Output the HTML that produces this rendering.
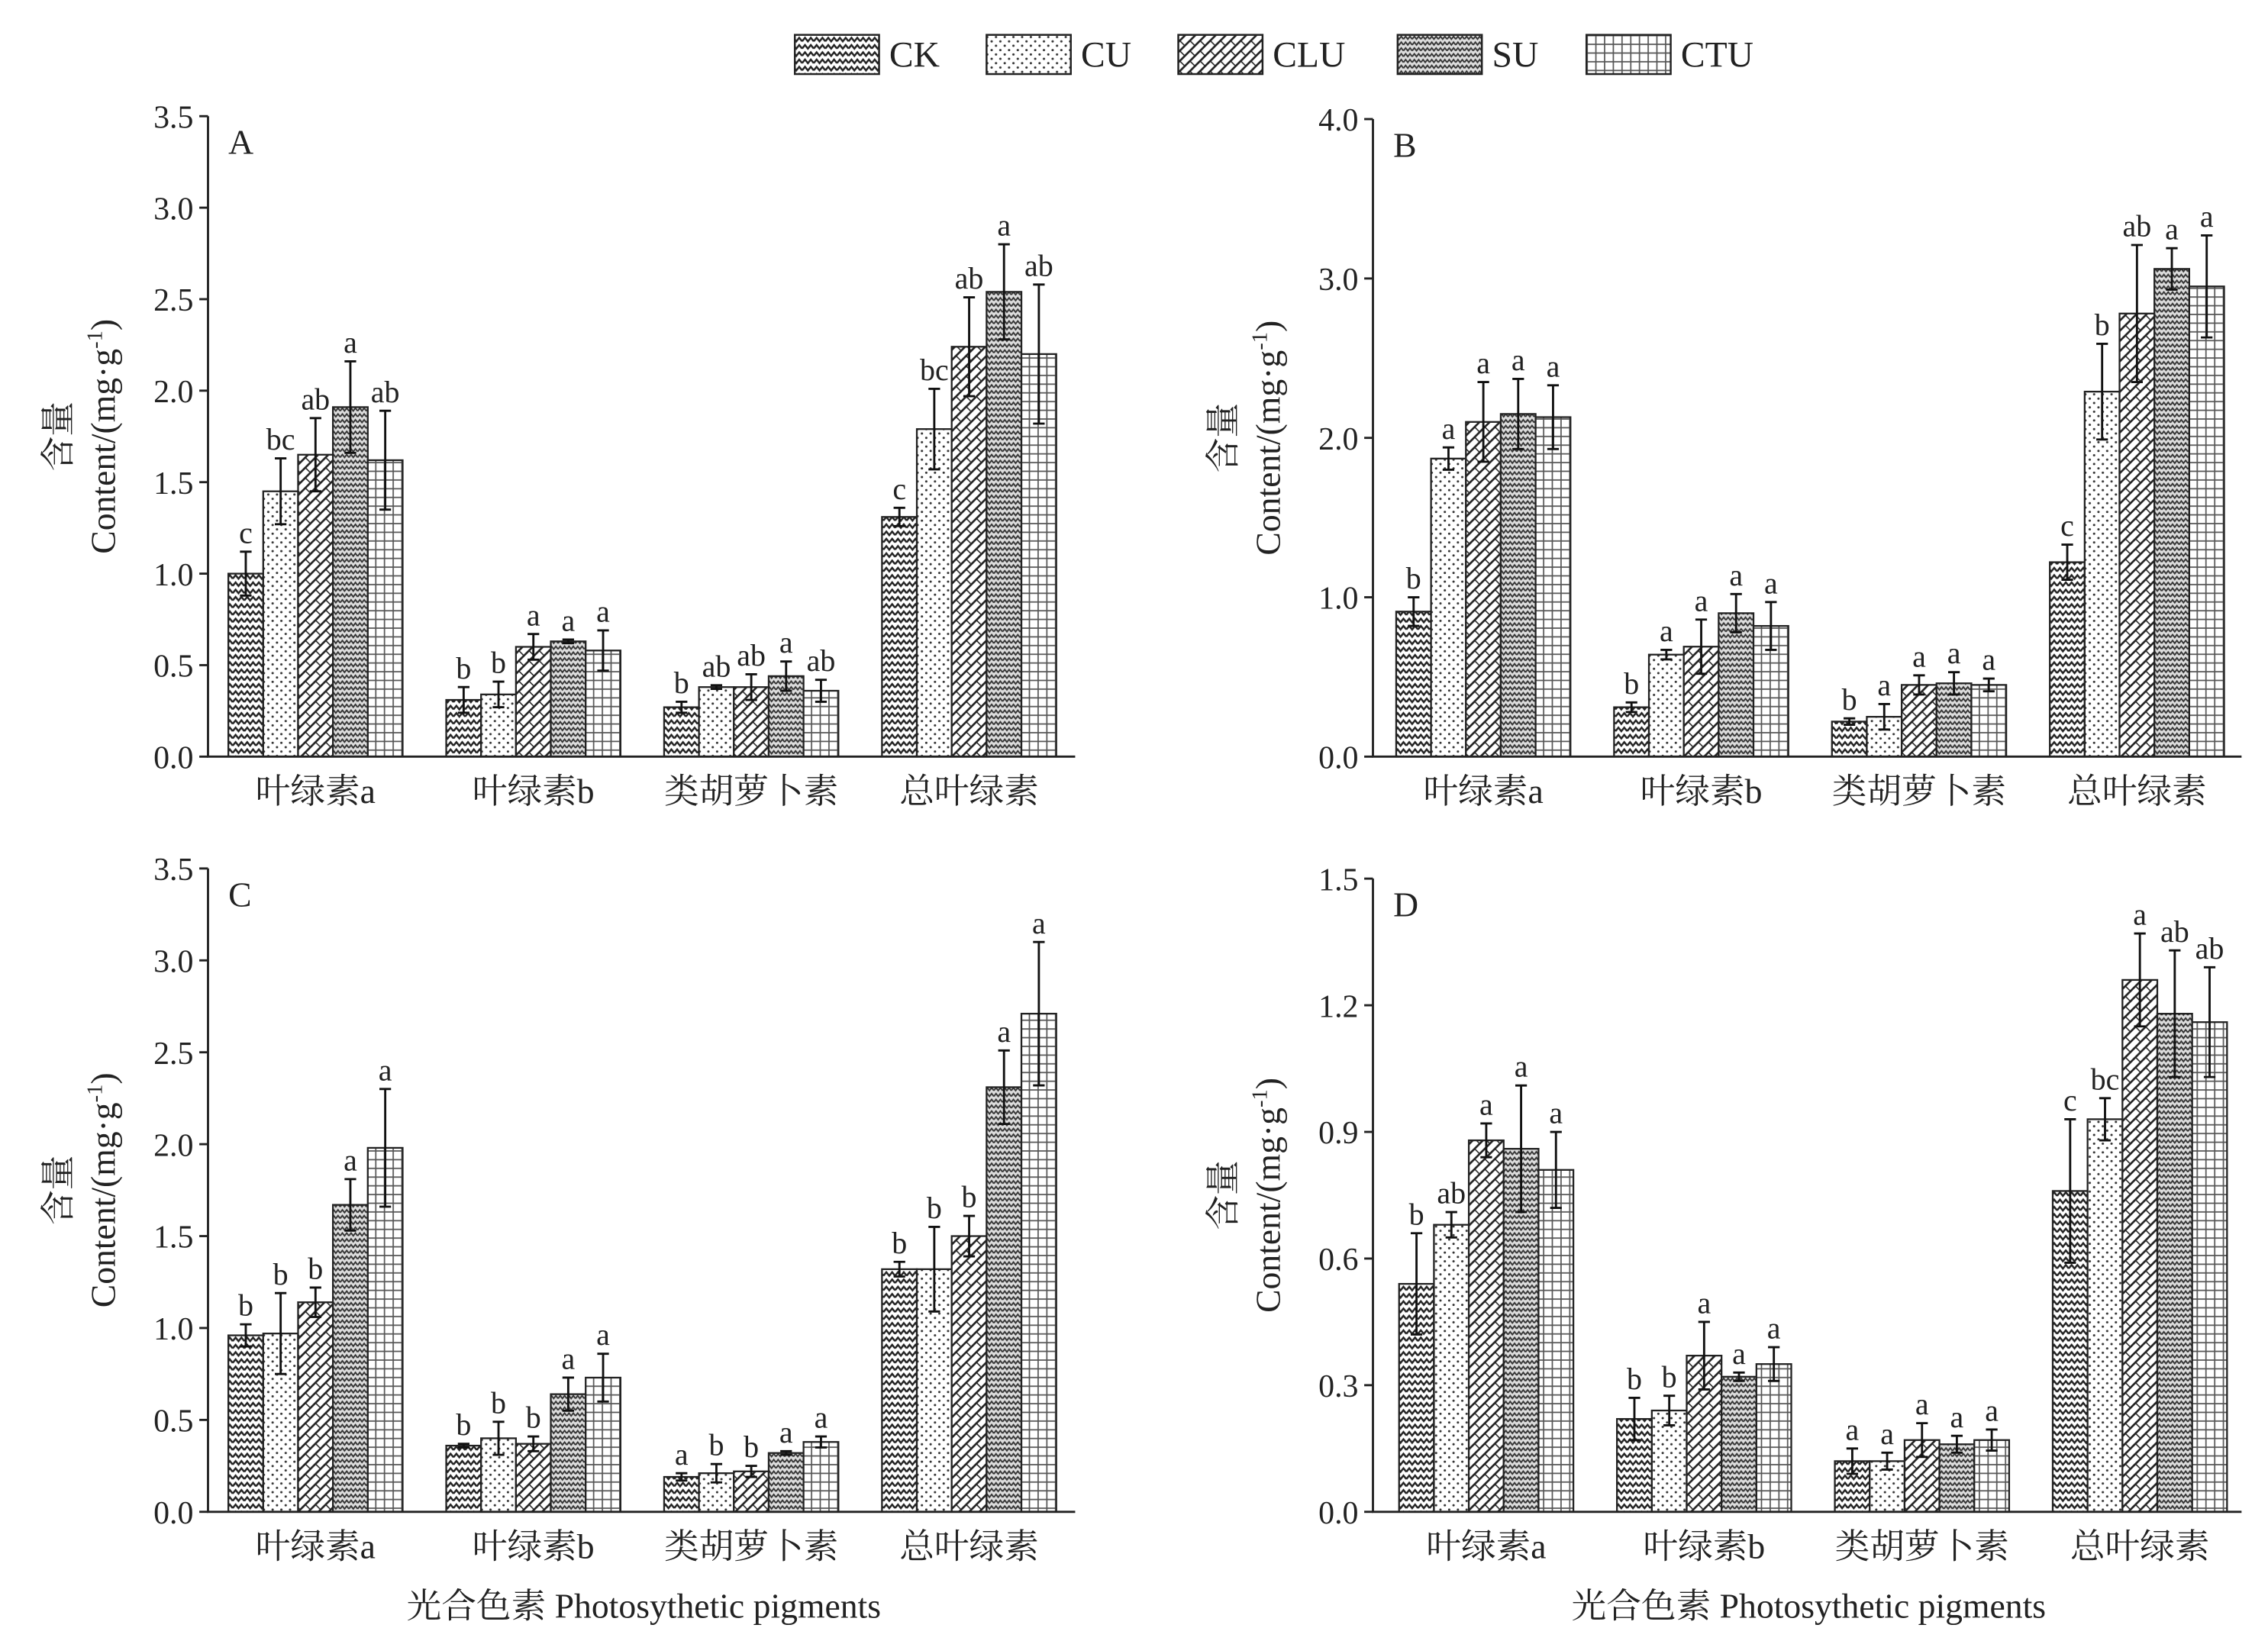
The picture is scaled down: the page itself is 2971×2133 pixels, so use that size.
<!DOCTYPE html>
<html><head><meta charset="utf-8"><style>
html,body{margin:0;padding:0;background:#fff;}
svg{display:block;}
svg text{font-family:"Liberation Serif","Noto Serif CJK SC",serif !important;fill:#222;}
</style></head><body>
<svg id="fig" width="2971" height="2133" viewBox="0 0 1561 1121" xmlns="http://www.w3.org/2000/svg" font-family="Liberation Serif, Noto Serif CJK SC, serif">
<defs>
<pattern id="pCK" width="8" height="5" patternUnits="userSpaceOnUse"><rect width="8" height="5" fill="#fff"/><path d="M0 3.5 L2 1 L4 3.5 L6 1 L8 3.5" fill="none" stroke="#222" stroke-width="1.3"/></pattern>
<pattern id="pCU" width="6" height="6" patternUnits="userSpaceOnUse"><rect width="6" height="6" fill="#fff"/><circle cx="1.5" cy="1.5" r="0.8" fill="#333"/><circle cx="4.5" cy="4.5" r="0.8" fill="#333"/></pattern>
<pattern id="pCLU" width="7" height="7" patternUnits="userSpaceOnUse"><rect width="7" height="7" fill="#fff"/><path d="M-1 8 L8 -1 M-1 1 L1 -1 M6 8 L8 6" stroke="#222" stroke-width="1.4"/><path d="M0 0 L3 3" stroke="#222" stroke-width="0.8"/></pattern>
<pattern id="pSU" width="6" height="4" patternUnits="userSpaceOnUse"><rect width="6" height="4" fill="#ddd"/><path d="M0 3 L1.5 1 L3 3 L4.5 1 L6 3" fill="none" stroke="#333" stroke-width="1"/></pattern>
<pattern id="pCTU" width="6" height="6" patternUnits="userSpaceOnUse"><rect width="6" height="6" fill="#fff"/><path d="M0 0.5 H6 M0.5 0 V6" stroke="#555" stroke-width="0.9"/></pattern>
</defs>
<g id="legend"></g>
<g id="panels"></g>
</svg>
<script>
const series = ["CK","CU","CLU","SU","CTU"];
const categories = ["叶绿素a","叶绿素b","类胡萝卜素","总叶绿素"];
const valuesA = [[1.0,1.45,1.65,1.91,1.62],[0.31,0.34,0.60,0.63,0.58],[0.27,0.38,0.38,0.44,0.36],[1.31,1.79,2.24,2.54,2.20]];
const errorsA = [[0.12,0.18,0.2,0.25,0.27],[0.07,0.07,0.07,0.01,0.11],[0.03,0.01,0.07,0.08,0.06],[0.05,0.22,0.27,0.26,0.38]];
const lettersA = [["c","bc","ab","a","ab"],["b","b","a","a","a"],["b","ab","ab","a","ab"],["c","bc","ab","a","ab"]];
const valuesB = [[0.91,1.87,2.10,2.15,2.13],[0.31,0.64,0.69,0.90,0.82],[0.22,0.25,0.45,0.46,0.45],[1.22,2.29,2.78,3.06,2.95]];
const errorsB = [[0.09,0.07,0.25,0.22,0.20],[0.03,0.03,0.17,0.12,0.15],[0.02,0.08,0.06,0.07,0.04],[0.11,0.30,0.43,0.13,0.32]];
const lettersB = [["b","a","a","a","a"],["b","a","a","a","a"],["b","a","a","a","a"],["c","b","ab","a","a"]];
const valuesC = [[0.96,0.97,1.14,1.67,1.98],[0.36,0.40,0.37,0.64,0.73],[0.19,0.21,0.22,0.32,0.38],[1.32,1.32,1.50,2.31,2.71]];
const errorsC = [[0.06,0.22,0.08,0.14,0.32],[0.01,0.09,0.04,0.09,0.13],[0.02,0.05,0.03,0.01,0.03],[0.04,0.23,0.11,0.20,0.39]];
const lettersC = [["b","b","b","a","a"],["b","b","b","a","a"],["a","b","b","a","a"],["b","b","b","a","a"]];
const valuesD = [[0.54,0.68,0.88,0.86,0.81],[0.22,0.24,0.37,0.32,0.35],[0.12,0.12,0.17,0.16,0.17],[0.76,0.93,1.26,1.18,1.16]];
const errorsD = [[0.12,0.03,0.04,0.15,0.09],[0.05,0.035,0.08,0.01,0.04],[0.03,0.02,0.04,0.02,0.025],[0.17,0.05,0.11,0.15,0.13]];
const lettersD = [["b","ab","a","a","a"],["b","b","a","a","a"],["a","a","a","a","a"],["c","bc","a","ab","ab"]];
const ticksA = ["0.0","0.5","1.0","1.5","2.0","2.5","3.0","3.5"];
const ticksB = ["0.0","1.0","2.0","3.0","4.0"];
const ticksC = ["0.0","0.5","1.0","1.5","2.0","2.5","3.0","3.5"];
const ticksD = ["0.0","0.3","0.6","0.9","1.2","1.5"];

const NS="http://www.w3.org/2000/svg";
function el(tag,attrs,parent,txt){const e=document.createElementNS(NS,tag);for(const k in attrs)e.setAttribute(k,attrs[k]);if(txt!==undefined)e.textContent=txt;parent.appendChild(e);return e;}
const fills=["url(#pCK)","url(#pCU)","url(#pCLU)","url(#pSU)","url(#pCTU)"];

const lg=document.getElementById('legend');
const lgX=[547,679,811,962,1092];
series.forEach((s,i)=>{
  const r=el('rect',{x:lgX[i],y:24,width:58,height:27,fill:fills[i],stroke:'#222','stroke-width':1.3},lg);
  
  
  const t=el('text',{x:lgX[i]+65,y:46,'font-size':25},lg,s);
  
  
});

const panels=[
 {id:'A',ax:143,y0:521,y1:80,xEnd:740,max:3.5,ticks:ticksA,vals:valuesA,errs:errorsA,lets:lettersA,g0:157,title:false},
 {id:'B',ax:945,y0:521,y1:82,xEnd:1543,max:4.0,ticks:ticksB,vals:valuesB,errs:errorsB,lets:lettersB,g0:961,title:false},
 {id:'C',ax:143,y0:1041,y1:598,xEnd:740,max:3.5,ticks:ticksC,vals:valuesC,errs:errorsC,lets:lettersC,g0:157,title:true},
 {id:'D',ax:945,y0:1041,y1:605,xEnd:1543,max:1.5,ticks:ticksD,vals:valuesD,errs:errorsD,lets:lettersD,g0:963,title:true}
];
const root=document.getElementById('panels');
const bw=24, gstep=150;
panels.forEach(p=>{
  const g=el('g',{},root);
  
  
  const ys=v=>p.y0-(v/p.max)*(p.y0-p.y1);
  p.vals.forEach((grp,ci)=>{
    grp.forEach((v,si)=>{
      const x=p.g0+ci*gstep+si*bw;
      const b=el('rect',{x:x,y:ys(v),width:bw,height:p.y0-ys(v),fill:fills[si],stroke:'#222','stroke-width':1.2},g);
      
      
      const e=p.errs[ci][si], cx=x+bw/2;
      const eb=el('path',{d:`M${cx} ${ys(v-e)} V${ys(v+e)} M${cx-4} ${ys(v+e)} H${cx+4} M${cx-4} ${ys(v-e)} H${cx+4}`,stroke:'#111','stroke-width':1.5,fill:'none'},g);
      
      
      const lt=el('text',{x:cx,y:ys(v+e)-6,'font-size':21,'text-anchor':'middle'},g,p.lets[ci][si]);
      
      
    });
    const cl=el('text',{x:p.g0+ci*gstep+60,y:p.y0+32,'font-size':24,'text-anchor':'middle'},g,categories[ci]);
    
    
  });
  const axl=el('path',{d:`M${p.ax} ${p.y1} V${p.y0} H${p.xEnd}`,stroke:'#222','stroke-width':1.5,fill:'none'},g);
  
  
  p.ticks.forEach(t=>{
    const y=ys(parseFloat(t));
    el('line',{x1:p.ax-6,x2:p.ax,y1:y,y2:y,stroke:'#222','stroke-width':1.5},g);
    const tl=el('text',{x:p.ax-10,y:y+8,'font-size':22,'text-anchor':'end'},g,t);
    
    
  });
  const pl=el('text',{x:p.ax+14,y:p.y1+26,'font-size':24},g,p.id);
  
  
  const cy=(p.y0+p.y1)/2;
  const yt1=el('text',{x:0,y:0,'font-size':24,'text-anchor':'middle',transform:`translate(${p.ax-95},${cy}) rotate(-90)`},g,'含量');
  
  
  const yt2=el('text',{x:0,y:0,'font-size':24,'text-anchor':'middle',transform:`translate(${p.ax-64},${cy}) rotate(-90)`},g);
  
  
  yt2.appendChild(document.createTextNode('Content/(mg·g'));
  el('tspan',{'font-size':15,dy:-9},yt2,'-1');
  el('tspan',{dy:9},yt2,')');
  if(p.title){
    const xt=el('text',{x:p.ax+300,y:p.y0+73,'font-size':24,'text-anchor':'middle'},g,'光合色素  Photosythetic pigments');
    
    
  }
});
</script>
</body></html>
